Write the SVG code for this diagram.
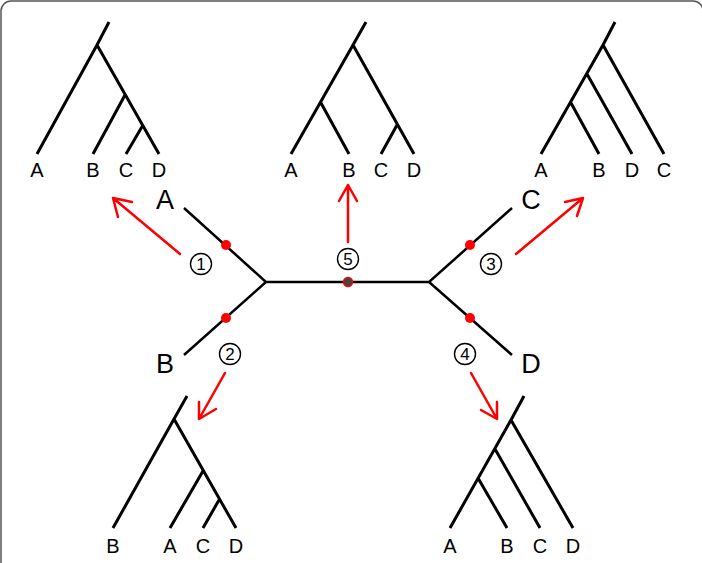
<svg xmlns="http://www.w3.org/2000/svg" width="702" height="563" viewBox="0 0 702 563">
<defs>
<style>
.t{fill:none;stroke:#000;stroke-width:3;stroke-linecap:butt;stroke-linejoin:miter}
.c{fill:none;stroke:#000;stroke-width:2.5}
.ar{fill:none;stroke:#f00;stroke-width:2.5;stroke-linecap:round;stroke-linejoin:round}
.lb{font-family:"Liberation Sans",Arial,sans-serif;font-size:20px;text-anchor:middle;fill:#000}
.big{font-family:"Liberation Sans",Arial,sans-serif;font-size:27px;text-anchor:middle;fill:#000}
.num{font-family:"Liberation Sans",Arial,sans-serif;font-size:17px;text-anchor:middle;fill:#000}
.ring{fill:#fff;stroke:#000;stroke-width:1.4}
.dot{fill:#f00}
</style>
</defs>
<rect x="1" y="1" width="702" height="620" rx="10" fill="#fff" stroke="#555" stroke-width="1.5"/>

<g id="tree1">
<path class="t" d="M109,22 L97,45 L37,154 M97,45 L159,154 M125,95 L93,154 M143,125 L126,154"/>
<text class="lb" x="37" y="177">A</text>
<text class="lb" x="93" y="177">B</text>
<text class="lb" x="126" y="177">C</text>
<text class="lb" x="159" y="177">D</text>
</g>

<g id="tree5">
<path class="t" d="M366,22 L353,45 L291,154 M353,45 L414,154 M321,103 L349,154 M397,125 L381,154"/>
<text class="lb" x="291" y="177">A</text>
<text class="lb" x="349" y="177">B</text>
<text class="lb" x="381" y="177">C</text>
<text class="lb" x="414" y="177">D</text>
</g>

<g id="tree3">
<path class="t" d="M615,22 L603,45 L541,154 M603,45 L664,154 M587,74 L632,154 M571,103 L599,154"/>
<text class="lb" x="541" y="177">A</text>
<text class="lb" x="599" y="177">B</text>
<text class="lb" x="632" y="177">D</text>
<text class="lb" x="664" y="177">C</text>
</g>

<g id="tree2">
<path class="t" d="M187,396 L174,419 L113,528 M174,419 L236,528 M203,471 L170,528 M219,500 L203,528"/>
<text class="lb" x="113" y="553">B</text>
<text class="lb" x="170" y="553">A</text>
<text class="lb" x="203" y="553">C</text>
<text class="lb" x="236" y="553">D</text>
</g>

<g id="tree4">
<path class="t" d="M524,396 L511,420 L450,528 M511,420 L573,528 M495,449 L540,528 M478,478 L507,528"/>
<text class="lb" x="450" y="553">A</text>
<text class="lb" x="507" y="553">B</text>
<text class="lb" x="540" y="553">C</text>
<text class="lb" x="573" y="553">D</text>
</g>

<g id="unrooted">
<path class="c" d="M184,208 L266,282 L184,355 M266,282 L429,282 M512,208 L429,282 L512,355"/>
<text class="big" x="165" y="209">A</text>
<text class="big" x="165" y="373">B</text>
<text class="big" x="531" y="209">C</text>
<text class="big" x="531" y="373">D</text>
<circle class="dot" cx="226" cy="245" r="5"/>
<circle class="dot" cx="226" cy="318" r="5"/>
<circle class="dot" cx="470" cy="245" r="5"/>
<circle class="dot" cx="470" cy="318" r="5"/>
<circle cx="348" cy="282" r="4.5" fill="#444" stroke="#f00" stroke-width="1.5"/>
</g>

<g id="labels">
<g><circle class="ring" cx="201" cy="264" r="10.5"/><text class="num" x="201" y="270">1</text></g>
<g><circle class="ring" cx="230" cy="354" r="10.5"/><text class="num" x="230" y="360">2</text></g>
<g><circle class="ring" cx="491" cy="264" r="10.5"/><text class="num" x="491" y="270">3</text></g>
<g><circle class="ring" cx="465" cy="354" r="10.5"/><text class="num" x="465" y="360">4</text></g>
<g><circle class="ring" cx="348" cy="259" r="10.5"/><text class="num" x="348" y="265">5</text></g>
</g>

<g id="connectors">
<path class="ar" d="M180,254 L113,198 M132,202 L113,198 L118,217"/>
<path class="ar" d="M516,254 L583,198 M565,202 L583,198 L577,216"/>
<path class="ar" d="M225,373 L199,419 M199,402 L199,419 L216,409"/>
<path class="ar" d="M471,373 L497,419 M481,410 L497,419 L497,402"/>
<path class="ar" d="M348,242 L348,185 M339,201 L348,185 L357,201"/>
</g>
</svg>
